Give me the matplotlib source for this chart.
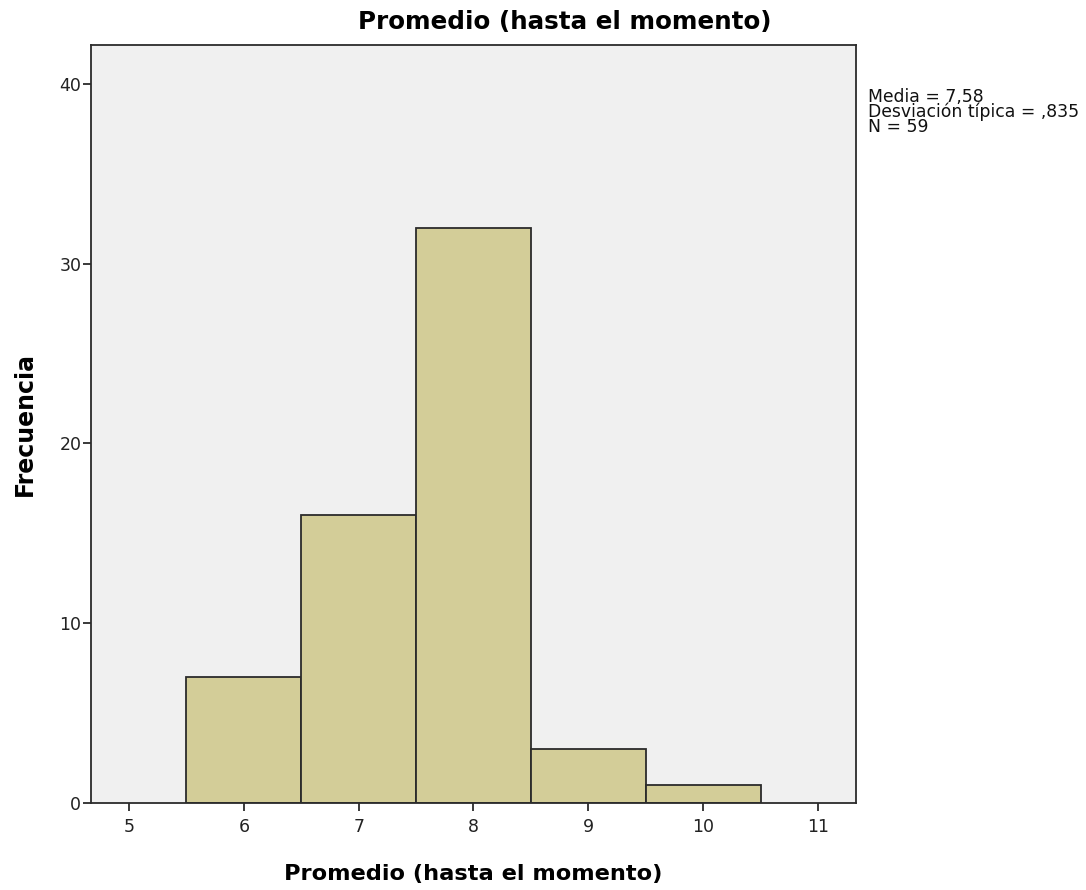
import numpy as np
import matplotlib
matplotlib.use("Agg")
import matplotlib.pyplot as plt

plt.rcParams['font.family'] = ['DejaVu Sans']

# histogram bins (edges) and counts
bin_edges = [5.5, 6.5, 7.5, 8.5, 9.5, 10.5]
counts = [7, 16, 32, 3, 1]
x_ticks = [5, 6, 7, 8, 9, 10, 11]
y_ticks = [0, 10, 20, 30, 40]
stats_text = "Media = 7,58\nDesviación típica = ,835\nN = 59"
title = "Promedio (hasta el momento)"

fig = plt.figure(figsize=(10.86, 8.9), dpi=100)
ax = fig.add_axes([0.0838, 0.0978, 0.7044, 0.8517])
ax.set_facecolor('#f0f0f0')

lefts = np.array(bin_edges[:-1])
widths = np.diff(bin_edges)
ax.bar(lefts, counts, width=widths, align='edge', color='#d3cd98',
       edgecolor='#2b2b2b', linewidth=1.3, zorder=2)

ax.set_xlim(4.669, 11.331)
ax.set_ylim(0, 42.17)
ax.set_xticks(x_ticks)
ax.set_yticks(y_ticks)
ax.tick_params(axis='both', direction='out', length=6, width=1.3,
               color='#2b2b2b', labelsize=12.5, labelcolor='#222222')
ax.tick_params(axis='x', pad=5)
ax.tick_params(axis='y', pad=1)
for s in ax.spines.values():
    s.set_linewidth(1.3)
    s.set_color('#2b2b2b')

# title is centred over plot + stats area, not just the axes
fig.text(0.520, 0.975, title, fontsize=17.7, fontweight='bold',
         ha='center', va='center')
ax.set_xlabel(title, fontsize=16.2, fontweight='bold', labelpad=20)
ax.set_ylabel("Frecuencia", fontsize=17, fontweight='bold', labelpad=16)

fig.text(0.799, 0.901, stats_text, fontsize=12.4, va='top', ha='left',
         linespacing=0.78, color='#111111')

fig.savefig('out.png', dpi=100)
